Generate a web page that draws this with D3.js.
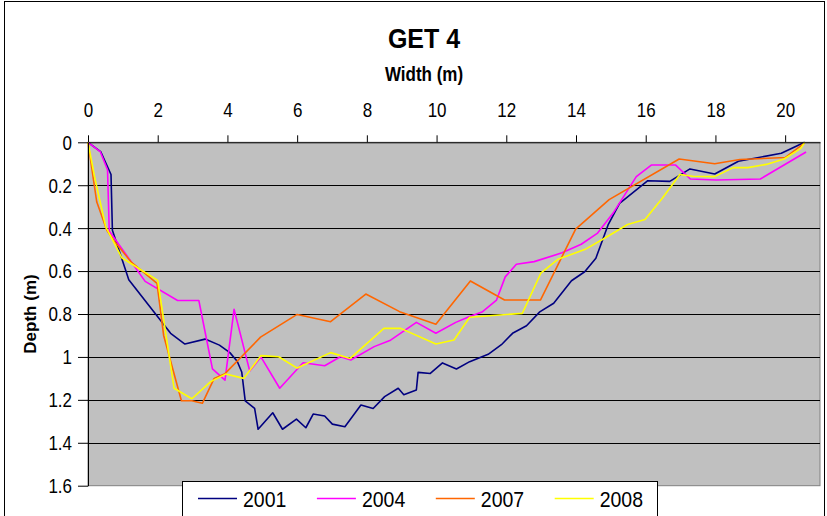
<!DOCTYPE html>
<html>
<head>
<meta charset="utf-8">
<script src="https://cdn.jsdelivr.net/npm/d3@7"></script>
<style>
  body { margin: 0; background: #fff; }
  text { font-family: "Liberation Sans", Arial, sans-serif; }
</style>
</head>
<body>
<div id="chart"></div>
<script>
// cross-section depths, [width m, depth m]
var s2001 = [[0,0],[0.37,0.045],[0.66,0.15],[0.70,0.41],[1.17,0.64],[2.37,0.89],[2.78,0.94],[3.36,0.917],
  [3.77,0.945],[4.07,0.98],[4.28,1.02],[4.41,1.07],[4.51,1.205],[4.78,1.24],[4.88,1.337],[5.30,1.26],
  [5.58,1.337],[5.98,1.29],[6.25,1.33],[6.46,1.266],[6.79,1.275],[7.01,1.313],[7.37,1.325],[7.83,1.224],
  [8.18,1.24],[8.51,1.185],[8.90,1.146],[9.06,1.176],[9.42,1.154],[9.47,1.072],[9.82,1.077],[10.17,1.028],
  [10.57,1.056],[10.95,1.022],[11.48,0.988],[11.86,0.943],[12.18,0.89],[12.58,0.855],[12.96,0.79],
  [13.36,0.75],[13.87,0.645],[14.25,0.603],[14.57,0.54],[14.92,0.385],[15.25,0.284],[16.06,0.179],
  [16.69,0.182],[17.27,0.124],[17.98,0.148],[18.66,0.088],[19.89,0.051],[20.56,0.0]];
var s2004 = [[0,0],[0.35,0.043],[0.56,0.128],[0.61,0.413],[1.64,0.648],[2.57,0.737],[3.18,0.737],
  [3.57,1.056],[3.93,1.108],[4.19,0.778],[4.64,1.066],[4.96,1.0],[5.50,1.146],[6.17,1.027],[6.79,1.041],
  [7.24,0.999],[7.54,1.014],[8.21,0.952],[8.66,0.924],[9.42,0.839],[9.98,0.89],[10.55,0.839],[10.93,0.813],
  [11.32,0.789],[11.72,0.735],[11.97,0.627],[12.29,0.568],[12.8,0.556],[13.6,0.515],[14.15,0.475],
  [14.62,0.423],[15.06,0.331],[15.73,0.16],[16.16,0.106],[16.86,0.106],[17.28,0.171],[18.02,0.176],
  [19.29,0.171],[20.6,0.045]];
var s2007 = [[0,0],[0.25,0.277],[0.54,0.41],[0.75,0.46],[1.25,0.56],[1.98,0.657],[2.17,0.90],[2.68,1.204],
  [2.98,1.204],[3.28,1.216],[3.62,1.10],[3.93,1.078],[4.95,0.908],[6.0,0.802],[6.96,0.836],[7.97,0.707],
  [8.94,0.789],[9.98,0.848],[10.97,0.646],[11.95,0.735],[12.98,0.735],[13.99,0.405],[14.95,0.267],
  [16.96,0.078],[17.98,0.1],[18.7,0.08],[20.0,0.071],[20.56,0.003]];
var s2008 = [[0,0],[0.2,0.17],[0.51,0.394],[0.97,0.538],[2.0,0.643],[2.47,1.146],[2.98,1.195],[3.52,1.115],
  [3.95,1.08],[4.47,1.10],[4.96,0.994],[5.47,0.999],[6.0,1.052],[6.96,0.98],[7.52,1.007],[8.49,0.867],
  [8.97,0.867],[9.98,0.94],[10.5,0.921],[10.95,0.815],[12.46,0.797],[12.99,0.61],[13.48,0.545],[14.25,0.5],
  [14.77,0.452],[15.48,0.383],[15.98,0.36],[16.47,0.262],[16.98,0.15],[17.35,0.158],[17.98,0.16],
  [18.51,0.118],[18.93,0.118],[19.46,0.103],[19.97,0.078],[20.45,0.028],[20.56,0.0]];

var years = ["2001", "2004", "2007", "2008"];
var colors = ["#000080", "#ff00ff", "#ff6600", "#ffff00"];
var xTicks = [0, 2, 4, 6, 8, 10, 12, 14, 16, 18, 20];
var yTicks = [0, 0.2, 0.4, 0.6, 0.8, 1, 1.2, 1.4, 1.6];

var series = [s2001, s2004, s2007, s2008];

var width = 827, height = 516;
var stretch = 1.14; // the original text is drawn a bit taller than the font

var svg = d3.select("#chart").append("svg")
  .attr("width", width).attr("height", height);

// put a text at (tx,ty) and stretch it upwards from its baseline
function place(sel, tx, ty, rot) {
  sel.attr("x", 0).attr("y", 0)
    .attr("transform", "translate(" + tx + "," + ty + ")" + (rot ? " rotate(" + rot + ")" : "") +
      " scale(1," + stretch + ")");
  return sel;
}

// outer chart frame
svg.append("rect")
  .attr("x", 4.5).attr("y", 1.5)
  .attr("width", 820).attr("height", 540)
  .attr("fill", "#fff").attr("stroke", "#000").attr("stroke-width", 1);

var x = d3.scaleLinear().domain([0, 21]).range([88, 820]);
var y = d3.scaleLinear().domain([0, 1.6]).range([142.3, 485.7]);

// plot area
svg.append("rect")
  .attr("x", x(0)).attr("y", y(0))
  .attr("width", x(21) - x(0)).attr("height", y(1.6) - y(0))
  .attr("fill", "#c0c0c0").attr("stroke", "#808080").attr("stroke-width", 1);

// gridlines
svg.append("g").selectAll("line")
  .data(yTicks.slice(1, -1))
  .enter().append("line")
  .attr("x1", x(0)).attr("x2", x(21))
  .attr("y1", function(d) { return Math.round(y(d)) + 0.5; })
  .attr("y2", function(d) { return Math.round(y(d)) + 0.5; })
  .attr("stroke", "#000").attr("stroke-width", 1);

var line = d3.line()
  .x(function(d) { return x(d[0]); })
  .y(function(d) { return y(d[1]); });

series.forEach(function(s, i) {
  svg.append("path")
    .datum(s)
    .attr("fill", "none")
    .attr("stroke", colors[i])
    .attr("stroke-width", 1.6)
    .attr("stroke-linejoin", "round")
    .attr("d", line);
});

// axes
var xAxis = svg.append("g")
  .attr("transform", "translate(0," + y(0) + ")")
  .call(d3.axisTop(x).tickValues(xTicks).tickSize(7).tickSizeOuter(0));
var yAxis = svg.append("g")
  .attr("transform", "translate(" + x(0) + ",0)")
  .call(d3.axisLeft(y).tickValues(yTicks).tickSize(10).tickSizeOuter(0)
    .tickFormat(function(d) { return String(+d.toFixed(1)); }));

[xAxis, yAxis].forEach(function(a) {
  a.select(".domain").attr("stroke", "#000");
  a.selectAll(".tick line").attr("stroke", "#000");
  a.selectAll(".tick text")
    .attr("fill", "#000")
    .attr("dy", null)
    .style("font-size", "17px")
    .style("font-family", "'Liberation Sans', Arial, sans-serif");
});
xAxis.selectAll(".tick text").each(function() { place(d3.select(this), 0, -25); });
yAxis.selectAll(".tick text").each(function() { place(d3.select(this), -16, 6.9); });

// titles
place(svg.append("text"), 424, 48)
  .attr("text-anchor", "middle")
  .style("font-size", "25px").style("font-weight", "bold")
  .text("GET 4");

place(svg.append("text"), 424, 81)
  .attr("text-anchor", "middle")
  .style("font-size", "17px").style("font-weight", "bold")
  .text("Width (m)");

svg.append("text")
  .attr("transform", "translate(36,314) rotate(-90)")
  .attr("text-anchor", "middle")
  .style("font-size", "17px").style("font-weight", "bold")
  .text("Depth (m)");

// legend
var legend = svg.append("g");
legend.append("rect")
  .attr("x", 182.5).attr("y", 481.5)
  .attr("width", 475).attr("height", 60)
  .attr("fill", "#fff").attr("stroke", "#000").attr("stroke-width", 1);

years.forEach(function(yr, i) {
  var lx = 198 + i * 118.9;
  legend.append("line")
    .attr("x1", lx).attr("x2", lx + 39)
    .attr("y1", 498.5).attr("y2", 498.5)
    .attr("stroke", colors[i]).attr("stroke-width", 1.6);
  place(legend.append("text"), lx + 45, 506.5)
    .style("font-size", "19.5px")
    .text(yr);
});
</script>
</body>
</html>
